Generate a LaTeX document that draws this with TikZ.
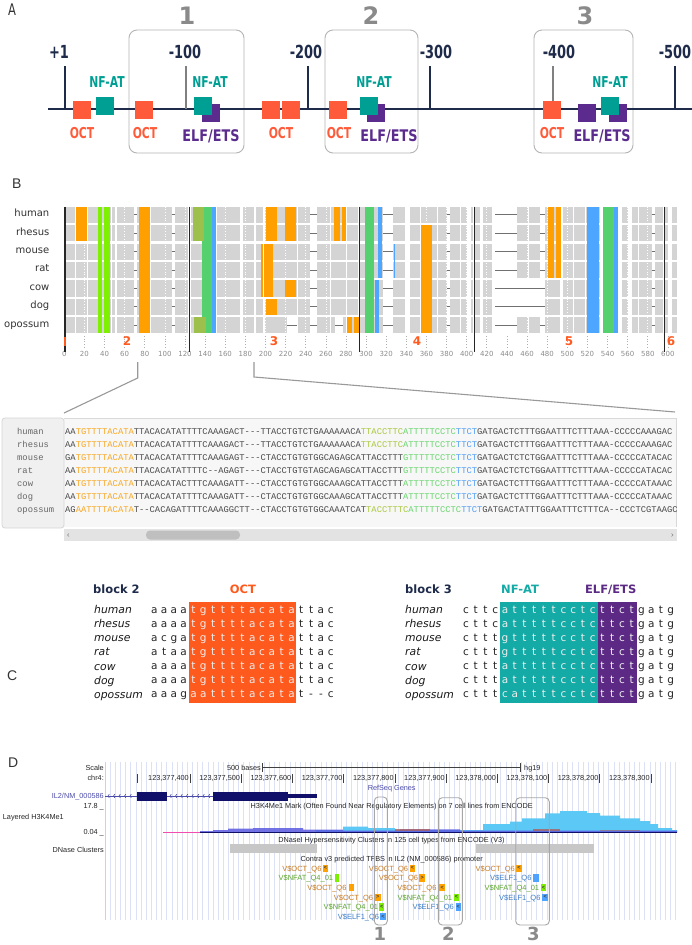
\documentclass[tikz,border=0pt]{standalone}
\usepackage{fontspec}
\setmainfont{DejaVu Sans}
\newfontfamily\libs{Liberation Sans}
\newfontfamily\lmono[Ligatures=TeXOff]{Liberation Mono}
\newfontfamily\cdv[FakeStretch=0.72]{DejaVu Sans}
\newfontfamily\cdvb[FakeStretch=0.8]{DejaVu Sans}
\newcommand\fsz[1]{\fontsize{#1}{#1}\selectfont}

\definecolor{navy}{HTML}{1F2B4A}
\definecolor{octc}{HTML}{FF5B3A}
\definecolor{nfatc}{HTML}{009F94}
\definecolor{elfc}{HTML}{5B2C8E}
\definecolor{numgray}{HTML}{8A8A8A}
\definecolor{boxgray}{HTML}{B4B4B4}
\definecolor{bargray}{HTML}{D4D4D4}
\definecolor{bOrange}{HTML}{FFA000}
\definecolor{bLime}{HTML}{7FF000}
\definecolor{bOlive}{HTML}{9DBF4C}
\definecolor{bGreen}{HTML}{55D06E}
\definecolor{bBlue}{HTML}{4DA6FF}
\definecolor{blockred}{HTML}{FF5A1F}
\definecolor{axgray}{HTML}{8C8C8C}
\definecolor{dashc}{HTML}{707070}
\definecolor{seqdark}{HTML}{4A4A4A}
\definecolor{sOrange}{HTML}{F7A823}
\definecolor{sOlive}{HTML}{A9C73C}
\definecolor{sGreen}{HTML}{6AD56F}
\definecolor{sBlue}{HTML}{4F9EF5}
\definecolor{cOct}{HTML}{FF5A1E}
\definecolor{cTeal}{HTML}{14AAA6}
\definecolor{cPurp}{HTML}{5C2A85}
\definecolor{gridc}{HTML}{DDE1F6}
\definecolor{geneblue}{HTML}{10106B}
\definecolor{genetxt}{HTML}{4C4CAA}
\definecolor{tOctT}{HTML}{C77B22}
\definecolor{tOctB}{HTML}{FFA200}
\definecolor{tNfT}{HTML}{5EA62E}
\definecolor{tNfB}{HTML}{7CF000}
\definecolor{tElT}{HTML}{3F7FC8}
\definecolor{tElB}{HTML}{4DA3FF}
\definecolor{histblue}{HTML}{5CC8F5}
\definecolor{histpurp}{HTML}{5A5AE0}
\definecolor{histbrown}{HTML}{A86060}

\tikzset{
 plet/.style={font=\libs\fsz{14}, text=black!80, inner sep=0, anchor=base west},
 tickl/.style={font=\cdv\bfseries\fsz{18}, text=navy, inner sep=0, anchor=base},
 bign/.style={font=\bfseries\fsz{24}, text=numgray, inner sep=0, anchor=base},
 tfl/.style={font=\cdv\bfseries\fsz{15}, inner sep=0, anchor=base},
 tflw/.style={font=\cdvb\bfseries\fsz{16}, inner sep=0, anchor=base},
 sqr/.style={minimum size=18pt, inner sep=0, draw=none},
 regbox/.style={draw=boxgray, line width=0.9, rounded corners=8},
 spB/.style={font=\fsz{10}, text=black!80, inner sep=0, anchor=base east},
 axl/.style={font=\fsz{7}, text=axgray, inner sep=0, anchor=base},
 blk/.style={font=\bfseries\fsz{12}, text=blockred, inner sep=0, anchor=base},
 seqt/.style={font=\lmono\fsz{8.8}, inner sep=0, anchor=base west},
 zoomline/.style={draw=black!40, line width=1.1},
 chead/.style={font=\bfseries\fsz{11.5}, inner sep=0, anchor=base},
 cspec/.style={font=\itshape\fsz{10.8}, text=black!90, inner sep=0, anchor=base west},
 cletter/.style={font=\fsz{10.5}, inner sep=0, anchor=base},
 dtxt/.style={font=\libs\fsz{7.3}, text=black!85, inner sep=0},
 tfbs/.style={font=\libs\fsz{7.5}, inner sep=0, anchor=base east},
 dbox/.style={draw=black!35, line width=0.9, rounded corners=4},
 dnum/.style={font=\bfseries\fsz{18}, text=numgray, inner sep=0, anchor=base},
}

% panel C letter rows: x0, baseline, hl start, hl end, name, step, list
\newcommand\crow[7]{%
  \foreach \c [count=\i from 0] in {#7} {%
    \ifnum\i<#3\relax \def\cc{black!85}\else\ifnum\i>#4\relax \def\cc{black!85}\else\def\cc{white!93!black}\fi\fi
    \node[cletter, text=\cc] (#5\i) at ({#1+#6*\i},#2) {\c};
  }}
% panel B coloured column: x1,x2,row1,row2,colour
\newcommand\bcol[5]{\fill[#5] (#1,{206.7+18.4*#3}) rectangle (#2,{223+18.4*#4});}
% TFBS entries: label end x, box x1, box x2, y, arrow, name
\newcommand\toct[6]{\node[tfbs, text=tOctT] (#6) at (#1,#4+2.7) {V\$OCT\_Q6};
  \fill[tOctB] (#2,#4-3.6) rectangle (#3,#4+3.6);
  \node[font=\libs\bfseries\fsz{5.5}, inner sep=0, text=black!75] (#6a) at ({(#2+#3)/2},#4) {#5};}
\newcommand\tnf[6]{\node[tfbs, text=tNfT] (#6) at (#1,#4+2.7) {V\$NFAT\_Q4\_01};
  \fill[tNfB] (#2,#4-3.6) rectangle (#3,#4+3.6);
  \node[font=\libs\bfseries\fsz{5.5}, inner sep=0, text=black!75] (#6a) at ({(#2+#3)/2},#4) {#5};}
\newcommand\telf[6]{\node[tfbs, text=tElT] (#6) at (#1,#4+2.7) {V\$ELF1\_Q6};
  \fill[tElB] (#2,#4-3.6) rectangle (#3,#4+3.6);
  \node[font=\libs\bfseries\fsz{5.5}, inner sep=0, text=black!75] (#6a) at ({(#2+#3)/2},#4) {#5};}

\begin{document}
\begin{tikzpicture}[x=1pt,y=-1pt]
\useasboundingbox (0,0) rectangle (692,945);
\fill[white] (0,0) rectangle (692,945);

%%%%%%%%%%%%%%%% PANEL A
\node[font=\cdv\fsz{16}, text=black!80, inner sep=0, anchor=base west] (labA) at (8,15.4) {A};
\draw[regbox] (129,30) rectangle (244,153);
\draw[regbox] (325,30) rectangle (418,153);
\draw[regbox] (534,30) rectangle (633,153);
\node[bign] (r1) at (187,24) {1};
\node[bign] (r2) at (371,24) {2};
\node[bign] (r3) at (585,24) {3};
\draw[navy, line width=2] (48,109) -- (692,109);
\foreach \x/\c [count=\k] in {65/navy,186/black!50,308/navy,430/navy,553/black!50,675/navy}
  \draw[\c, line width=1.2] (\x,66) -- (\x,109);
\node[tickl] (t1) at (59,58.6) {+1};
\node[tickl] (t2) at (185,58.6) {-100};
\node[tickl] (t3) at (306,58.6) {-200};
\node[tickl] (t4) at (436,58.6) {-300};
\node[tickl] (t5) at (559,58.6) {-400};
\node[tickl] (t6) at (675,58.6) {-500};
% squares
\foreach \x [count=\k] in {81.5,144,271,291,338,552}
  \node[sqr, fill=octc] (oct\k) at (\x,110) {};
\foreach \x [count=\k] in {211,376,587,618}
  \node[sqr, fill=elfc] (elf\k) at (\x,113) {};
\foreach \x [count=\k] in {105,203,369,610}
  \node[sqr, fill=nfatc] (nf\k) at (\x,106) {};
\foreach \x [count=\k] in {107,210,374,610}
  \node[tfl, text=nfatc] (nfl\k) at (\x,87) {NF-AT};
\foreach \x [count=\k] in {82,145,281,339,552}
  \node[tfl, text=octc] (ocl\k) at (\x,138) {OCT};
\foreach \x [count=\k] in {211,389,602}
  \node[tflw, text=elfc] (ell\k) at (\x,141) {ELF/ETS};

%%%%%%%%%%%%%%%% PANEL B
\node[plet] (labB) at (12,188.3) {B};
\foreach \n [count=\i from 0] in {human,rhesus,mouse,rat,cow,dog,opossum}
  \node[spB] (spb\i) at (49.5,{216.7+18.4*\i}) {\n};
\foreach \i in {0,...,6}
  \fill[bargray] (65,{206.7+18.4*\i}) rectangle (676.7,{223+18.4*\i});
\foreach \a/\b in {75.2/76,86.8/87.8,110.5/111.5,115/116.7,134/137,150/151,171.5/174.7,188/190.6,215.7/217,240/242.7,254/255.7,262.5/265,296.5/297.5,310/316.7,330/331.3,346.3/347.3,358.3/360.3,383/393,405/410,420/421,436.5/437.5,446.7/450,460/461,466.7/470.7,473.3/475.3,480/483,491.7/493.3,528/529,540/545,560/562.7,573/574,585/586.3,600/603,618/621.7,628.3/631.7,638/639,651.7/655,663.3/665.3,668/671.7}
  \fill[white] (\a,206.7) rectangle (\b,333.4);
\fill[white] (493,206.7) rectangle (517,{223+18.4*3});
\fill[white] (493,{206.7+18.4*4}) rectangle (545,{223+18.4*5});
\fill[white] (493,{206.7+18.4*6}) rectangle (517,333.4);
\fill[white] (286.7,{206.7+18.4*6}) rectangle (296.7,333.4);
\fill[white] (335,{206.7+18.4*6}) rectangle (342.7,333.4);
\foreach \v in {20,40,...,580}
  \draw[white, dotted, line width=0.7] ({64.3+1.006*\v},206.7) -- ({64.3+1.006*\v},333.4);
\foreach \i in {0,...,6}
  \foreach \a/\b in {134/137,171.5/174.7,310/316.7,383/393,446.7/450,540/545,651.7/655,495/517}
    \draw[dashc, line width=1] (\a,{214.85+18.4*\i}) -- (\b,{214.85+18.4*\i});
\foreach \i in {4,5}
  \draw[dashc, line width=1] (517,{214.85+18.4*\i}) -- (540,{214.85+18.4*\i});
\draw[dashc, line width=1] (287,{214.85+18.4*6}) -- (296.5,{214.85+18.4*6});
\draw[dashc, line width=1] (335,{214.85+18.4*6}) -- (342.5,{214.85+18.4*6});
% coloured columns
\bcol{76}{87}{0}{1}{bOrange}
\bcol{97.7}{101.7}{0}{6}{bLime}
\bcol{103.7}{110}{0}{6}{bLime}
\bcol{139.3}{150}{0}{6}{bOrange}
\bcol{201.7}{211.7}{0}{6}{bGreen}
\bcol{193.3}{204.3}{0}{1}{bOlive}
\bcol{194}{205.7}{6}{6}{bOlive}
\bcol{211.7}{215.7}{0}{6}{bBlue}
\bcol{266}{276.7}{0}{1}{bOrange}
\bcol{261}{273.3}{2}{4}{bOrange}
\bcol{266}{276.7}{5}{5}{bOrange}
\fill[white] (262.7,{206.7+18.4*2}) rectangle (263.7,{223+18.4*4});
\bcol{285}{296}{0}{1}{bOrange}
\bcol{285}{296}{4}{4}{bOrange}
\bcol{334.3}{340.3}{0}{1}{bOrange}
\bcol{342.3}{346.3}{0}{1}{bOrange}
\bcol{347}{352.3}{6}{6}{bOrange}
\bcol{354.3}{359}{6}{6}{bOrange}
\bcol{365}{374.3}{0}{6}{bGreen}
\bcol{377.7}{381.7}{0}{3}{bBlue}
\bcol{375}{379}{4}{6}{bBlue}
\bcol{393.5}{394.5}{2}{3}{bBlue}
\bcol{421}{432}{1}{6}{bOrange}
\bcol{547.7}{554}{0}{3}{bOrange}
\bcol{556}{560.7}{0}{3}{bOrange}
\bcol{587.3}{599}{0}{6}{bBlue}
\bcol{603.3}{614}{0}{6}{bGreen}
\bcol{614}{617.7}{0}{6}{bBlue}
% axis
\foreach \v in {0,20,...,600} {
  \draw[axgray!70, dotted, line width=0.7] ({64.3+1.006*\v},336) -- ({64.3+1.006*\v},348);
  \node[axl] (ax\v) at ({64.3+1.006*\v},356.8) {\v};
}
\foreach \x in {65,189.3,359.3,474.3,664.3}
  \draw[black!85, line width=1.1] (\x,206.7) -- (\x,352);
\fill[blockred] (64.2,337) rectangle (65.8,345.5);
\node[blk] (bk2) at (127,345.7) {2};
\node[blk] (bk3) at (274,345.7) {3};
\node[blk] (bk4) at (417,345.7) {4};
\node[blk] (bk5) at (569,345.7) {5};
\node[blk] (bk6) at (671,345.7) {6};
% zoom lines
\coordinate (zl1) at (137.7,362);
\coordinate (zl2) at (137.7,378);
\coordinate (zl3) at (64,413);
\coordinate (zr1) at (254,362);
\coordinate (zr2) at (254,377);
\coordinate (zr3) at (675,412);
\draw[zoomline] (zl1) -- (zl2) -- (zl3);
\draw[zoomline] (zr1) -- (zr2) -- (zr3);
% sequence box
\fill[black!3] (64,418) rectangle (676.5,527);
\draw[black!15, line width=0.8] (64,418) -- (676.5,418) -- (676.5,527);
\filldraw[fill=black!6, draw=black!16, line width=0.8, rounded corners=3] (2,418) rectangle (64,528);
\foreach \n [count=\i from 0] in {human,rhesus,mouse,rat,cow,dog,opossum}
  \node[seqt, text=black!60] (sps\i) at (17,{434+13.12*\i}) {\n};
\begin{scope}
\clip (64,418) rectangle (676.5,527);
\node[seqt] (seq0) at (65,434) {\textcolor{seqdark}{AA}\textcolor{sOrange}{TGTTTTACATA}\textcolor{seqdark}{TTACACATATTTTCAAAGACT---TTACCTGTCTGAAAAAACA}\textcolor{sOlive}{TTACCTTC}\textcolor{sGreen}{ATTTTTCCTC}\textcolor{sBlue}{TTCT}\textcolor{seqdark}{GATGACTCTTTGGAATTTCTTTAAA-CCCCCAAAGAC}};
\node[seqt] (seq1) at (65,447.1) {\textcolor{seqdark}{AA}\textcolor{sOrange}{TGTTTTACATA}\textcolor{seqdark}{TTACACATATTTTCAAAGACT---TTACCTGTCTGAAAAAACA}\textcolor{sOlive}{TTACCTTC}\textcolor{sGreen}{ATTTTTCCTC}\textcolor{sBlue}{TTCT}\textcolor{seqdark}{GATGACTCTTTGGAATTTCTTTAAA-CCCCCAAAGAC}};
\node[seqt] (seq2) at (65,460.2) {\textcolor{seqdark}{GA}\textcolor{sOrange}{TGTTTTACATA}\textcolor{seqdark}{TTACACATATTTTCAAAGAGT---CTACCTGTGTGGCAGAGCATTACCTTT}\textcolor{sGreen}{GTTTTTCCTC}\textcolor{sBlue}{TTCT}\textcolor{seqdark}{GATGACTCTCTGGAATTTCTTTAAA-CCCCCATACAC}};
\node[seqt] (seq3) at (65,473.4) {\textcolor{seqdark}{AA}\textcolor{sOrange}{TGTTTTACATA}\textcolor{seqdark}{TTACACATATTTTC--AGAGT---CTACCTGTGTAGCAGAGCATTACCTTT}\textcolor{sGreen}{GTTTTTCCTC}\textcolor{sBlue}{TTCT}\textcolor{seqdark}{GATGACTCTCTGGAATTTCTTTAAA-CCCCCATACAC}};
\node[seqt] (seq4) at (65,486.5) {\textcolor{seqdark}{AA}\textcolor{sOrange}{TGTTTTACATA}\textcolor{seqdark}{TTACACATACTTTCAAAGATT---CTACCTGTGTGGCAAAGCATTACCTTT}\textcolor{sGreen}{ATTTTTCCTC}\textcolor{sBlue}{TTCT}\textcolor{seqdark}{GATGACTCTTTGGAATTTCTTTAAA-CCCCCATAAAC}};
\node[seqt] (seq5) at (65,499.6) {\textcolor{seqdark}{AA}\textcolor{sOrange}{TGTTTTACATA}\textcolor{seqdark}{TTACACATATTTTCAAAGATT---CTACCTGTGTGGCAAAGCATTACCTTT}\textcolor{sGreen}{ATTTTTCCTC}\textcolor{sBlue}{TTCT}\textcolor{seqdark}{GATGACTCTTTGGAATTTCTTTAAA-CCCCCATAAAC}};
\node[seqt] (seq6) at (65,512.7) {\textcolor{seqdark}{AG}\textcolor{sOrange}{AATTTTACATA}\textcolor{seqdark}{T--CACAGATTTTCAAAGGCTT--CTACCTGTGTGGCAAATCAT}\textcolor{sOlive}{TACCTTTC}\textcolor{sGreen}{ATTTTTCCTC}\textcolor{sBlue}{TTCT}\textcolor{seqdark}{GATGACTATTTGGAATTTCTTTCA--CCCTCGTAAGC}};
\end{scope}
% scrollbar
\fill[black!11] (64,529) rectangle (676.5,541);
\fill[black!25, rounded corners=4] (146,530.5) rectangle (240,539.5);
\draw[black!45, line width=0.6] (69,533.5) -- (67.5,535) -- (69,536.5);
\draw[black!45, line width=0.6] (671.5,533.5) -- (673,535) -- (671.5,536.5);

%%%%%%%%%%%%%%%% PANEL C
\node[plet] (labC) at (7,680) {C};
\node[chead, text=navy, anchor=base west] (blk2) at (93,593) {block 2};
\node[chead, text=cOct] (hOct) at (243,593) {OCT};
\node[chead, text=navy, anchor=base west] (blk3) at (405,593) {block 3};
\node[chead, text=cTeal] (hNf) at (520,593) {NF-AT};
\node[chead, text=cPurp] (hElf) at (610.7,593) {ELF/ETS};
\fill[cOct] (188.6,601.7) rectangle (296.4,702.5);
\fill[cTeal] (500.1,601.7) rectangle (597.6,702.5);
\fill[cPurp] (597.6,601.7) rectangle (636.6,702.5);
\foreach \n [count=\i from 0] in {human,rhesus,mouse,rat,cow,dog,opossum} {
  \node[cspec] (cs2\i) at (94,{613.8+14.05*\i}) {\n};
  \node[cspec] (cs3\i) at (405,{613.8+14.05*\i}) {\n};
}
\crow{154.3}{613.6}{4}{14}{ca}{9.8}{a,a,a,a,t,g,t,t,t,t,a,c,a,t,a,t,t,a,c}
\crow{154.3}{627.65}{4}{14}{cb}{9.8}{a,a,a,a,t,g,t,t,t,t,a,c,a,t,a,t,t,a,c}
\crow{154.3}{641.7}{4}{14}{cc}{9.8}{a,c,g,a,t,g,t,t,t,t,a,c,a,t,a,t,t,a,c}
\crow{154.3}{655.75}{4}{14}{cd}{9.8}{a,t,a,a,t,g,t,t,t,t,a,c,a,t,a,t,t,a,c}
\crow{154.3}{669.8}{4}{14}{ce}{9.8}{a,a,a,a,t,g,t,t,t,t,a,c,a,t,a,t,t,a,c}
\crow{154.3}{683.85}{4}{14}{cf}{9.8}{a,a,a,a,t,g,t,t,t,t,a,c,a,t,a,t,t,a,c}
\crow{154.3}{697.9}{4}{14}{cg}{9.8}{a,a,a,g,a,a,t,t,t,t,a,c,a,t,a,t,-,-,c}
\crow{466}{613.6}{4}{17}{da}{9.75}{c,t,t,c,a,t,t,t,t,t,c,c,t,c,t,t,c,t,g,a,t,g}
\crow{466}{627.65}{4}{17}{db}{9.75}{c,t,t,c,a,t,t,t,t,t,c,c,t,c,t,t,c,t,g,a,t,g}
\crow{466}{641.7}{4}{17}{dc}{9.75}{c,t,t,t,g,t,t,t,t,t,c,c,t,c,t,t,c,t,g,a,t,g}
\crow{466}{655.75}{4}{17}{dd}{9.75}{c,t,t,t,g,t,t,t,t,t,c,c,t,c,t,t,c,t,g,a,t,g}
\crow{466}{669.8}{4}{17}{de}{9.75}{c,t,t,t,a,t,t,t,t,t,c,c,t,c,t,t,c,t,g,a,t,g}
\crow{466}{683.85}{4}{17}{df}{9.75}{c,t,t,t,a,t,t,t,t,t,c,c,t,c,t,t,c,t,g,a,t,g}
\crow{466}{697.9}{4}{17}{dg}{9.75}{c,t,t,t,c,a,t,t,t,t,c,c,t,c,t,t,c,t,g,a,t,g}

%%%%%%%%%%%%%%%% PANEL D
\node[plet] (labD) at (8,767.7) {D};
\foreach \k in {0,...,111}
  \draw[gridc, line width=0.6] ({105+5.14*\k},761.7) -- ({105+5.14*\k},920);
\draw[red!25, line width=0.8] (105,761.7) -- (105,920);
\node[dtxt, anchor=base east] (dscale) at (104,770.7) {Scale};
\node[dtxt, anchor=base east] (dchr) at (104,780.7) {chr4:};
\node[dtxt, anchor=base east] (d500) at (261,770.5) {500 bases};
\coordinate (sb1) at (262,767);
\coordinate (sb2) at (520,767);
\draw[black!75, line width=0.6] (sb1) -- (sb2);
\draw[black!75, line width=0.6] (262,763.3) -- (262,771.7);
\draw[black!75, line width=0.6] (520,763.3) -- (520,771.7);
\node[dtxt, anchor=base west] (dhg) at (524,770.3) {hg19};
\draw[black!75, line width=0.6] (137.7,774) -- (137.7,783.3);
\foreach \l [count=\k from 0] in {123{,}377{,}400,123{,}377{,}500,123{,}377{,}600,123{,}377{,}700,123{,}377{,}800,123{,}377{,}900,123{,}378{,}000,123{,}378{,}100,123{,}378{,}200,123{,}378{,}300} {
  \draw[black!75, line width=0.6] ({190+51.2*\k},774) -- ({190+51.2*\k},783.3);
  \node[dtxt, anchor=base east] (dc\k) at ({189+51.2*\k},780.7) {\l};
}
\node[dtxt, text=genetxt, anchor=base] (dref) at (391.7,790.5) {RefSeq Genes};
\node[dtxt, text=genetxt, anchor=base east] (dgene) at (104,798.5) {IL2/NM\_000586};
\draw[genetxt, line width=0.8] (105,796) -- (213.3,796);
\foreach \x in {108,113.5,119,124.5,130,170,175.5,181,186.5,192,197.5,203,208.5}
  \draw[genetxt, line width=0.6] (\x+1.3,794.2) -- (\x,796) -- (\x+1.3,797.8);
\fill[geneblue] (136.7,791.7) rectangle (166.7,800.7);
\fill[geneblue] (213.3,791.7) rectangle (288.3,800.7);
\fill[geneblue] (288.3,794) rectangle (316.7,798.3);
\node[dtxt, anchor=base east] (d178) at (104,808.6) {17.8 \_};
\node[dtxt, anchor=base] (dh3) at (391.7,808.7) {H3K4Me1 Mark (Often Found Near Regulatory Elements) on 7 cell lines from ENCODE};
\node[dtxt, anchor=base west] (dlay) at (2.7,819) {Layered H3K4Me1};
\node[dtxt, anchor=base east] (d004) at (104,834) {0.04 \_};
% histogram
\fill[histblue] (316,832.5) -- (316,830) -- (343,830) -- (343,826.7) -- (368,826.7) -- (368,828) -- (395,828) -- (395,830) -- (483,830) -- (483,824) -- (510,824) -- (510,821.7) -- (522,821.7) -- (522,818.3) -- (545,818.3) -- (545,813.3) -- (560,813.3) -- (560,811) -- (587,811) -- (587,813) -- (600,813) -- (600,815.7) -- (620,815.7) -- (620,818.3) -- (640,818.3) -- (640,821) -- (650,821) -- (650,824) -- (658,824) -- (658,828) -- (672,828) -- (672,830) -- (677,830) -- (677,832.5) -- cycle;
\fill[histpurp, opacity=0.85] (200,832.5) -- (200,831) -- (213,831) -- (213,830) -- (228,830) -- (228,828.7) -- (253,828.7) -- (253,828) -- (303,828) -- (303,829.5) -- (343,829.5) -- (343,830.5) -- (400,830.5) -- (400,829.3) -- (460,829.3) -- (460,830.5) -- (677,830.5) -- (677,832.5) -- cycle;
\fill[histbrown, opacity=0.8] (395,830.5) rectangle (430,829);
\fill[histbrown, opacity=0.8] (533,830.5) rectangle (560,828.8);
\fill[histbrown, opacity=0.6] (600,830.5) rectangle (640,829.5);
\draw[magenta!70, line width=0.9] (163,832.5) -- (200,832.5);
\draw[geneblue, line width=1.6] (200,832.6) -- (677,832.6);
\node[dtxt, anchor=base] (ddn) at (391.5,842.5) {DNaseI Hypersensitivity Clusters in 125 cell types from ENCODE (V3)};
\node[dtxt, anchor=base east] (ddc) at (104,852) {DNase Clusters};
\fill[black!22] (230,844.3) rectangle (316.7,853.3);
\fill[black!22] (476,844.3) rectangle (594,853.3);
\node[dtxt, anchor=base] (dcon) at (391.7,861.5) {Contra v3 predicted TFBS in IL2 (NM\_000586) promoter};
% TFBS
\toct{321.7}{322.7}{328.3}{868.3}{<}{tf1}
\toct{408.3}{410}{415}{868.3}{<}{tf2}
\toct{515}{516}{521.7}{868.3}{<}{tf3}
\tnf{333.3}{335}{339.3}{878}{}{tf4}
\toct{418.3}{419.3}{425}{878}{>}{tf5}
\telf{531.7}{533.3}{539}{878}{}{tf6}
\toct{346.7}{348.5}{354}{887.7}{}{tf7}
\toct{436.7}{439.3}{445}{887.7}{<}{tf8}
\tnf{539.3}{541}{545.7}{887.7}{<}{tf9}
\toct{373.3}{375}{380.7}{897.3}{>}{tf10}
\tnf{452.3}{454}{459}{897.3}{<}{tf11}
\telf{540.7}{542.3}{548.3}{897.3}{<}{tf12}
\tnf{378.3}{379.3}{384}{907}{<}{tf13}
\telf{454}{455.7}{461}{907}{<}{tf14}
\telf{379.3}{380}{386}{916.5}{<}{tf15}
% highlight boxes
\draw[dbox] (374.3,797) rectangle (387.3,925);
\draw[dbox] (438.3,797.7) rectangle (462.3,925);
\draw[dbox] (515.7,797.7) rectangle (549.3,925);
\node[dnum] (dn1) at (380,940.5) {1};
\node[dnum] (dn2) at (448.3,940.5) {2};
\node[dnum] (dn3) at (533.3,940.5) {3};
\end{tikzpicture}
\end{document}
